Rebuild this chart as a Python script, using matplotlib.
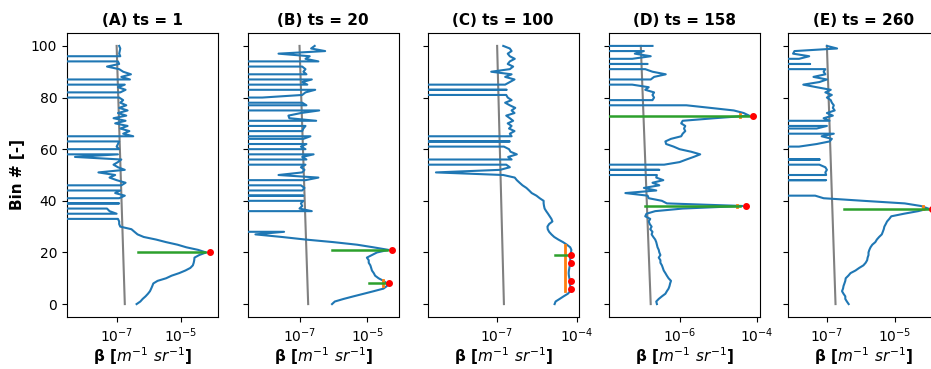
import numpy as np
import matplotlib
matplotlib.use("Agg")
import matplotlib.pyplot as plt
from matplotlib.ticker import NullLocator, FixedLocator

# Bin numbers
bins = np.arange(101)

# Backscatter profiles, in units of 1e-7 m^-1 sr^-1 (0 = no signal)
beta_A = [4.2, 5.5, 6.5, 8, 9.5, 11, 12, 13, 14, 19,
          35, 52, 90, 140, 200, 240, 255, 265, 270, 380,
          620, 350, 150, 80, 35, 17, 7, 4.5, 3.6, 2.9,
          1.3, 1.2, 1.2, 1.1, 0, 1.0, 0.6, 0.5, 0, 1.2,
          0, 1.2, 1.8, 0.9, 1.3, 0, 1.4, 1.9, 1.0, 0.6,
          0.9, 0.27, 1.8, 1.1, 0.8, 1.1, 1.4, 0.05, 1.1, 0,
          1.2, 1.0, 1.1, 1.2, 0, 3.3, 1.6, 2.5, 1.3, 2.2,
          0.9, 1.9, 0.8, 2.0, 1.1, 2.2, 1.2, 2.0, 1.3, 1.6,
          1.2, 0, 1.3, 1.9, 1.1, 1.8, 0, 2.6, 1.4, 2.8,
          1.6, 1.2, 0.5, 1.2, 1.1, 0, 1.3, 1.2, 1.25, 1.3,
          1.2]
beta_B = [9.1, 11, 20, 39, 78, 155, 300, 380, 380, 300,
          215, 170, 155, 137, 130, 123, 110, 110, 97, 137,
          193, 420, 150, 50, 10, 1.5, 0.3, 0.05, 0.35, 0,
          0, 0, 0, 0, 0, 0, 2.3, 1.0, 1.2, 1.1,
          1.3, 0, 1.3, 0, 1.2, 1.4, 1.1, 0, 1.5, 3.6,
          0.24, 1.2, 1.4, 1.1, 1.5, 0, 1.6, 1.2, 2.6, 0,
          1.5, 1.1, 1.6, 0, 1.3, 2.1, 0, 1.2, 1.3, 1.5,
          0, 3.1, 0.5, 0.47, 1.1, 3.8, 0, 1.6, 1.2, 0,
          0.08, 1.2, 1.5, 2.9, 0, 1.7, 1.2, 2.3, 0, 1.6,
          1.3, 1.5, 1.2, 0, 3.6, 1.5, 2.0, 0.24, 5.7, 2.2,
          2.8]
beta_C = [145, 158, 224, 316, 455, 560, 570, 560, 540, 570,
          520, 500, 490, 500, 520, 540, 570, 560, 560, 570,
          600, 620, 560, 420, 300, 200, 140, 110, 90, 80,
          78, 90, 120, 110, 95, 82, 70, 61, 58, 56,
          56, 40, 30, 20, 16, 12.6, 9, 7, 5.5, 4.6,
          1.7, 0.005, 1.3, 3.0, 2.2, 0, 3.5, 2.6, 5.5, 3.2,
          2.8, 1.8, 0, 3.0, 0, 3.5, 3.0, 4.5, 2.8, 3.5,
          2.5, 4.0, 3.0, 2.2, 4.5, 3.5, 4.8, 3.0, 2.0, 3.5,
          2.5, 2.2, 0, 2.3, 0, 2.0, 3.0, 4.5, 2.0, 3.5,
          0.6, 3.0, 4.0, 2.5, 3.0, 4.6, 3.0, 2.5, 3.5, 3.0,
          1.7]
beta_D = [2.6, 2.5, 2.9, 3.5, 4.3, 4.7, 5.2, 5.5, 5.7, 6.0,
          5.2, 4.7, 4.3, 3.9, 3.7, 3.5, 3.2, 3.2, 2.9, 3.2,
          3.0, 2.9, 2.7, 2.6, 2.5, 2.35, 2.1, 1.9, 2.0, 1.75,
          1.9, 1.7, 1.6, 1.75, 1.3, 1.4, 2.35, 12, 420, 4.7,
          3.5, 1.6, 1.5, 0.4, 2.5, 1.2, 3.0, 2.0, 3.8, 2.5,
          2.6, 0, 3.0, 0, 4.0, 10, 15, 23, 34, 20,
          10, 7, 4.5, 4.3, 6, 11, 12, 14, 13, 14,
          11, 12, 80, 620, 450, 250, 62, 15, 0, 2.0,
          2.2, 2.0, 2.2, 1.3, 1.6, 0.6, 0, 1.8, 2.2, 4.4,
          2.0, 1.3, 0, 1.5, 0, 0.6, 1.8, 0.7, 1.2, 0,
          2.0]
beta_E = [4.4, 3.9, 3.5, 3.5, 3.1, 2.8, 3.0, 3.1, 3.3, 3.5,
          3.6, 4.3, 5.0, 7, 9, 12, 14, 15.5, 16, 17,
          17, 18, 19.5, 22, 27, 30, 35, 42, 45, 48,
          50, 55, 60, 70, 80, 190, 500, 1000, 600, 200,
          12, 0.8, 0.45, 0, 0, 0, 0, 0, 0.95, 0,
          0.95, 0.9, 1.0, 0.9, 0.6, 0, 0.62, 0, 0, 0,
          0, 0.15, 0.5, 1.2, 1.4, 0.7, 1.6, 0, 0.5, 1.0,
          0, 1.2, 0.8, 1.5, 1.0, 1.7, 1.5, 1.6, 1.4, 1.3,
          1.0, 1.4, 0.9, 1.3, 0.5, 0.2, 0.6, 1.0, 0.4, 0.9,
          0.8, 0.9, 0, 0.32, 0, 0.15, 0.3, 0.1, 0.11, 2.0,
          1.0]

# Molecular profile (units 1e-7), at bins 0 and 100
mol_bins = [0, 100]
mol_beta = [1.8, 1.0]

# Detected layer peaks: bin, peak value (red), green line start / end (units 1e-7)
peaks_A = dict(bin=[20], red=[830], g0=[4.5], g1=[560])
peaks_B = dict(bin=[21, 8], red=[535, 450], g0=[9.1, 110], g1=[380, 360])
peaks_C = dict(bin=[19, 16, 9, 6], red=[575, 575, 575, 575], g0=[145], g1=[460])
peaks_D = dict(bin=[73, 38], red=[778, 520], g0=[0.15, 1.3], g1=[600, 370])
peaks_E = dict(bin=[37], red=[1320], g0=[3.1], g1=[1070])

# Orange layer extents: x value, bin from, bin to
orange_B = ([290], [7], [9.5])
orange_C = ([346], [5], [23])
orange_D = ([370, 300], [72.5, 37.5], [73.5, 38.5])
orange_E = ([700], [36.8], [37.8])

titles = ["(A) ts = 1", "(B) ts = 20", "(C) ts = 100", "(D) ts = 158", "(E) ts = 260"]
xlims = [(-8.55, -3.85), (-8.52, -4.08), (-9.6, -3.94), (-7.82, -3.94), (-8.15, -3.7)]
xticks = [[1e-7, 1e-5], [1e-7, 1e-5], [1e-7, 1e-4], [1e-6, 1e-4], [1e-7, 1e-5]]

profiles = [beta_A, beta_B, beta_C, beta_D, beta_E]
peaks = [peaks_A, peaks_B, peaks_C, peaks_D, peaks_E]
oranges = [None, orange_B, orange_C, orange_D, orange_E]

U = 1e-7
W, H = 931, 369
fig = plt.figure(figsize=(W / 100, H / 100), dpi=100)
lefts = [67, 248, 428, 609, 788]
axw = 150.5
ax0 = None
for i in range(5):
    rect = [lefts[i] / W, 1 - 317 / H, axw / W, (317 - 33) / H]
    ax = fig.add_axes(rect, sharey=ax0) if ax0 is not None else fig.add_axes(rect)
    if ax0 is None:
        ax0 = ax
    ax.set_xscale('log')
    ax.plot(np.array(mol_beta) * U, mol_bins, color='grey', lw=1.5, zorder=2)
    ax.plot(np.array(profiles[i]) * U, bins, color='#1f77b4', lw=1.5, zorder=3)
    o = oranges[i]
    if o is not None:
        for xv, y0, y1 in zip(*o):
            ax.plot([xv * U, xv * U], [y0, y1], color='#ff7f0e', lw=2, zorder=4)
    p = peaks[i]
    for b, g0, g1 in zip(p['bin'], p['g0'], p['g1']):
        ax.plot([g0 * U, g1 * U], [b, b], color='#2ca02c', lw=1.8, zorder=5)
    ax.plot(np.array(p['red']) * U, p['bin'], 'o', color='red', ms=4, zorder=6)
    ax.set_xlim(10 ** xlims[i][0], 10 ** xlims[i][1])
    ax.xaxis.set_major_locator(FixedLocator(xticks[i]))
    ax.xaxis.set_minor_locator(NullLocator())
    ax.set_title(titles[i], fontsize=11, fontweight='bold')
    ax.set_xlabel(r'β [$m^{-1}$ $sr^{-1}$]', fontsize=11, fontweight='bold', labelpad=0)
    ax.tick_params(labelsize=10)
    if i == 0:
        ax.set_ylabel('Bin # [-]', fontsize=11, fontweight='bold')
    else:
        ax.tick_params(labelleft=False)

ax0.set_ylim(-5, 105)
ax0.set_yticks([0, 20, 40, 60, 80, 100])

fig.savefig('out.png', dpi=100)
